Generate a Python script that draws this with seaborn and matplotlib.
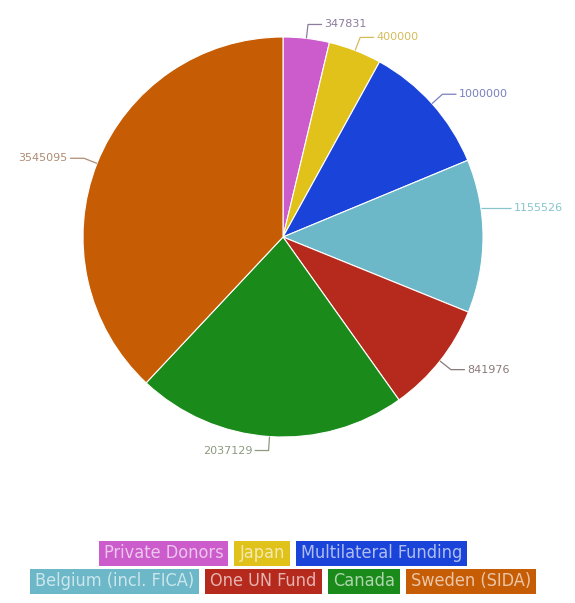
import matplotlib
matplotlib.use("Agg")
import matplotlib.pyplot as plt
import matplotlib.patches as mpatches
import matplotlib.colors as mcolors
import seaborn as sns
import numpy as np

categories = ["Private Donors", "Japan", "Multilateral Funding",
              "Belgium (incl. FICA)", "One UN Fund", "Canada", "Sweden (SIDA)"]
values = [347831, 400000, 1000000, 1155526, 841976, 2037129, 3545095]
value_labels = ["347831", "400000", "1000000", "1155526", "841976", "2037129", "3545095"]
colors = ["#cc5ccc", "#e0c21a", "#1a44d9", "#6cb8c8", "#b62a1e", "#1a8a1a", "#c65d05"]
label_colors = ["#8c7c9c", "#d4bc5a", "#7880c0", "#88c4cc", "#8a7a78", "#8c9a80", "#b08c74"]

sns.set_theme(style="white")
plt.rcParams['font.family'] = ['DejaVu Sans']

W, H = 575, 603
fig = plt.figure(figsize=(W / 100, H / 100), dpi=100)
ax = fig.add_axes([0, 0, 1, 1])
cx, cy, R = 283, 237, 200

wedges, _ = ax.pie(values, colors=colors, startangle=90, counterclock=False,
                   radius=1, center=(0, 0),
                   wedgeprops=dict(linewidth=0.8, edgecolor="white"))
ax.set_xlim(-cx / R, (W - cx) / R)
ax.set_ylim(-(H - cy) / R, cy / R)
ax.set_aspect("auto")
ax.axis("off")

# data labels with elbow connectors
dy_adjust = {3: 0.14}
for i, w in enumerate(wedges):
    th = np.deg2rad((w.theta1 + w.theta2) / 2)
    c, s = np.cos(th), np.sin(th)
    p0 = np.array([c, s])
    r1 = 1.07
    p1 = np.array([c * r1, s * r1 + dy_adjust.get(i, 0)])
    if i == 3:
        p0 = np.array([np.sqrt(1 - p1[1] ** 2), p1[1]])
    sign = 1 if c >= 0 else -1
    p2 = p1 + np.array([sign * 0.07, 0])
    ax.plot([p0[0], p1[0], p2[0]], [p0[1], p1[1], p2[1]],
            color=label_colors[i], lw=0.9, solid_capstyle="butt")
    ax.text(p2[0] + sign * 0.012, p2[1], value_labels[i],
            ha="left" if sign > 0 else "right", va="center",
            fontsize=8, color=label_colors[i])

# legend with coloured boxes
fig.canvas.draw()
renderer = fig.canvas.get_renderer()
rows = [[0, 1, 2], [3, 4, 5, 6]]
row_y = [553, 581]
padx, gap, bh = 5, 6, 25
target_row2 = 506

def measure(fs, idx):
    t = fig.text(0, 0, categories[idx], fontsize=fs, fontstretch="condensed")
    wd = t.get_window_extent(renderer).width
    t.remove()
    return wd

fs0 = 13.0
row2_w = sum(measure(fs0, i) + 2 * padx for i in rows[1]) + gap * (len(rows[1]) - 1)
fs = fs0 * (target_row2 - 2 * padx * 4 - gap * 3) / (row2_w - 2 * padx * 4 - gap * 3)

for row, yc in zip(rows, row_y):
    texts, widths = [], []
    for i in row:
        tint = tuple(0.35 * np.array(mcolors.to_rgb(colors[i])) + 0.65)
        t = fig.text(0, 1 - yc / H, categories[i], fontsize=fs, color=tint,
                     fontstretch="condensed", ha="left", va="center", zorder=5)
        texts.append(t)
        widths.append(t.get_window_extent(renderer).width)
    total = sum(wd + 2 * padx for wd in widths) + gap * (len(row) - 1)
    x = cx - total / 2
    for i, t, wd in zip(row, texts, widths):
        bw = wd + 2 * padx
        rect = mpatches.Rectangle((x / W, 1 - (yc + bh / 2) / H), bw / W, bh / H,
                                  transform=fig.transFigure, facecolor=colors[i],
                                  edgecolor="none", zorder=4)
        fig.patches.append(rect)
        t.set_x((x + padx) / W)
        x += bw + gap

fig.savefig("out.png", dpi=100)
